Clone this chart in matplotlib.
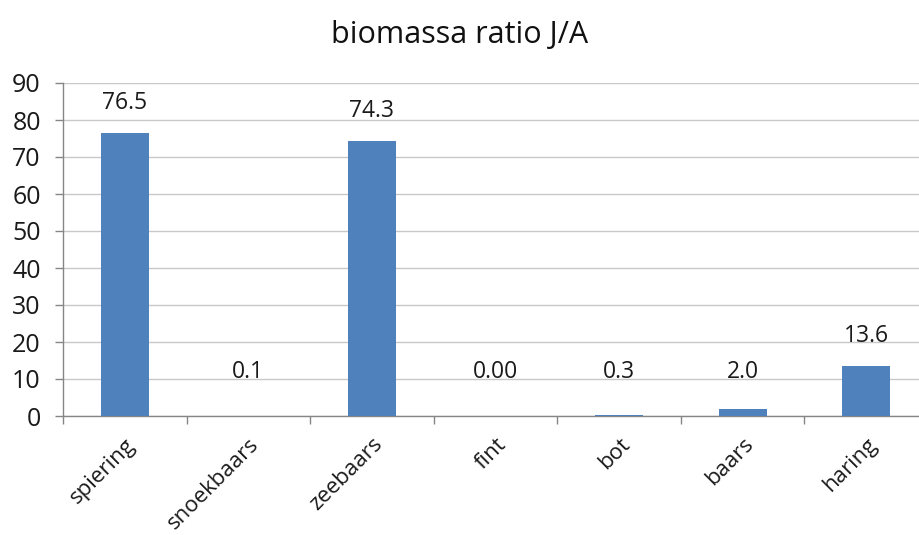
import matplotlib
matplotlib.use("Agg")
import matplotlib.pyplot as plt
import matplotlib.transforms as mtransforms

categories = ["spiering", "snoekbaars", "zeebaars", "fint", "bot", "baars", "haring"]
values = [76.5, 0.1, 74.3, 0.0, 0.3, 2.0, 13.6]
labels = ["76.5", "0.1", "74.3", "0.00", "0.3", "2.0", "13.6"]
yticks = [0, 10, 20, 30, 40, 50, 60, 70, 80, 90]
title = "biomassa ratio J/A"

plt.rcParams['font.family'] = ['Open Sans', 'DejaVu Sans']

W, H = 920, 535
fig = plt.figure(figsize=(W/100, H/100), dpi=100)
left, right = 63, 928
bottom, top = 416, 83
ax = fig.add_axes([left/W, 1 - bottom/H, (right-left)/W, (bottom-top)/H])

x = list(range(len(categories)))
ax.bar(x, values, width=0.39, color="#4F81BD", zorder=3)
for xi, v, lab in zip(x, values, labels):
    ax.text(xi, max(v, 4) + 8, lab, ha="center", va="center", fontsize=16.5, color="#1a1a1a")

ax.set_xlim(-0.5, len(categories) - 0.5)
ax.set_ylim(0, 90)
ax.set_yticks(yticks)
ax.set_yticklabels([str(t) for t in yticks], fontsize=18, color="#1a1a1a")
ax.yaxis.grid(True, color="#C8C8C8", linewidth=1, zorder=0)
ax.set_xticks(x)
ax.set_xticklabels(categories, rotation=45, ha="right", rotation_mode="anchor",
                   fontsize=16, color="#1a1a1a")
offset = mtransforms.ScaledTranslation(12/100, 0, fig.dpi_scale_trans)
for t in ax.get_xticklabels():
    t.set_transform(t.get_transform() + offset)
ax.set_xticks([i + 0.5 for i in range(-1, len(categories))], minor=True)
ax.tick_params(axis="x", which="major", length=0, pad=13)
ax.tick_params(axis="x", which="minor", length=6, color="#868686", width=1)
ax.tick_params(axis="y", length=6, color="#868686", width=1, pad=10)
for s in ["top", "right"]:
    ax.spines[s].set_visible(False)
for s in ["left", "bottom"]:
    ax.spines[s].set_color("#868686")
    ax.spines[s].set_linewidth(1)

fig.text(0.5, 1 - 35/H, title, ha="center", va="center", fontsize=22, color="#111111")

fig.savefig("out.png", dpi=100)
